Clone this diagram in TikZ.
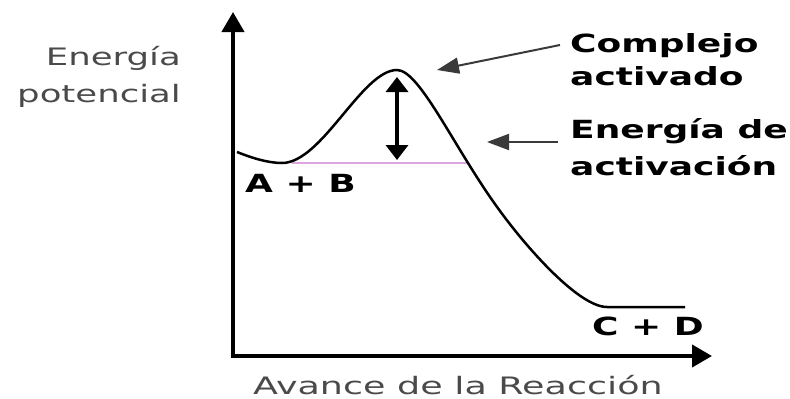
\documentclass[tikz,border=0pt]{standalone}
\usepackage{fontspec}
\setmainfont{DejaVu Sans}
\usepackage{graphicx}
\usetikzlibrary{arrows.meta}
\definecolor{lilac}{HTML}{dba6e0}
\definecolor{txtgray}{HTML}{4a4a4a}
\definecolor{ptrgray}{HTML}{3a3a3a}
\newcommand{\widetxt}[1]{\scalebox{1.48}[1]{#1}}
\newcommand{\widebf}[1]{\scalebox{1.44}[1]{\bfseries #1}}

\begin{document}
\begin{tikzpicture}[x=1pt, y=-1pt,
    axis/.style={line width=4pt, line join=miter, {Triangle[length=20pt,width=22pt]}-{Triangle[length=20pt,width=22pt]}},
    curve/.style={line width=2.5pt},
    gap/.style={line width=3.5pt, {Triangle[length=15pt,width=22pt]}-{Triangle[length=15pt,width=22pt]}},
    ptr/.style={ptrgray, line width=2pt, -{Triangle[length=22pt,width=16pt]}},
    lbl/.style={inner sep=0, txtgray, font=\fontsize{24}{37}\selectfont},
    tag/.style={inner sep=0, align=left, font=\fontsize{25}{33}\selectfont}]
    \useasboundingbox (0, 0) rectangle (790, 399);
    % axes
    \coordinate (O) at (233, 356);
    \coordinate (ytip) at (233, 12);
    \coordinate (xtip) at (712, 356);
    \draw[axis] (ytip) -- (O) -- (xtip);
    \node[lbl, anchor=base east, align=right] (ylab) at (181, 102) {\widetxt{Energía}\\\widetxt{potencial}};
    \node[lbl, anchor=base west] (xlab) at (253, 394) {\scalebox{1.52}[1]{Avance de la Reacción}};
    % activation level and curve
    \draw[lilac, line width=2pt] (292, 163) -- (467, 163);
    \draw[curve] (237, 152) .. controls (252, 158) and (268, 163) .. (282, 163)
        .. controls (322, 163) and (362, 70) .. (397, 70)
        .. controls (420, 70) and (455, 150) .. (500, 211)
        .. controls (530, 252) and (580, 307) .. (607, 307) -- (685, 307);
    \coordinate (gtop) at (397, 77);
    \coordinate (gbot) at (397, 160);
    \draw[gap] (gtop) -- (gbot);
    \node[tag, anchor=base west] (ab) at (245, 192) {\widebf{A + B}};
    \node[tag, anchor=base west] (cd) at (592, 335) {\widebf{C + D}};
    % labels and pointers
    \node[tag, anchor=base west] (cplx) at (570, 85) {\widebf{Complejo}\\\widebf{activado}};
    \node[tag, anchor=base west, font=\fontsize{25}{37}\selectfont] (ener) at (570, 175) {\widebf{Energía de}\\\widebf{activación}};
    \coordinate (cplxstart) at (560, 45);
    \coordinate (peak) at (437, 70);
    \coordinate (enerstart) at (558, 142);
    \coordinate (slope) at (487, 142);
    \draw[ptr] (cplxstart) -- (peak);
    \draw[ptr] (enerstart) -- (slope);
\end{tikzpicture}
\end{document}
